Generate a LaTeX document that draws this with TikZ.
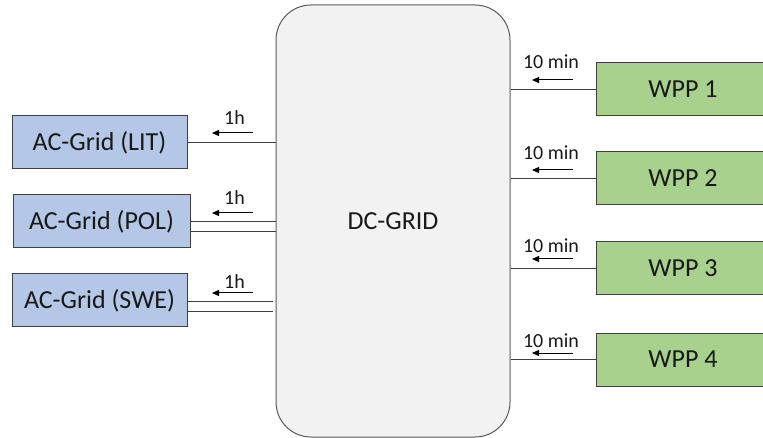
\documentclass[tikz,border=0pt]{standalone}
\usepackage{fontspec}
\setmainfont{Carlito}
\usetikzlibrary{arrows.meta}
\definecolor{acblue}{HTML}{B4C7E7}
\definecolor{wppgreen}{HTML}{A9D18E}
\definecolor{dcgray}{HTML}{F2F2F2}
\definecolor{edgecol}{HTML}{404040}
\definecolor{dcedge}{HTML}{5A5A5A}
\begin{document}
\begin{tikzpicture}[x=1pt,y=-1pt,
  box/.style={draw=edgecol, line width=1pt, minimum height=53pt, inner sep=0pt,
    font=\fontsize{26}{30}\selectfont, text=black!90},
  acbox/.style={box, fill=acblue},
  wppbox/.style={box, fill=wppgreen, minimum width=174pt},
  link/.style={draw=edgecol, line width=1pt},
  tarrow/.style={draw=black, line width=1pt, -{Triangle[length=7pt,width=6pt]}},
  lbl/.style={anchor=base, inner sep=0pt, font=\fontsize{20}{24}\selectfont, text=black!90}]
\useasboundingbox (0,0) rectangle (763,438);

% central DC grid
\node[draw=dcedge, fill=dcgray, line width=1pt, rounded corners=35pt,
      minimum width=234pt, minimum height=432pt, inner sep=0pt,
      font=\fontsize{26}{30}\selectfont, text=black!90] (dc) at (393,221) {DC-GRID};

% AC grids
\node[acbox, minimum width=175pt] (lit) at (99.5,142.5) {AC-Grid (LIT)};
\node[acbox, minimum width=177pt] (pol) at (101.5,221.5) {AC-Grid (POL)};
\node[acbox, minimum width=175pt] (swe) at (99.5,300.5) {AC-Grid (SWE)};

% WPPs
\node[wppbox] (w1) at (683,89.5) {WPP 1};
\node[wppbox] (w2) at (683,178.5) {WPP 2};
\node[wppbox] (w3) at (683,268.5) {WPP 3};
\node[wppbox] (w4) at (683,359.5) {WPP 4};

% helper coordinates for the double lines
\coordinate (p1) at (0,222);
\coordinate (p2) at (0,232);
\coordinate (s1) at (0,302);
\coordinate (s2) at (0,312);
\coordinate (sin) at (273,0);

% AC connections
\draw[link] (lit.east) -- (lit.east -| dc.west);
\draw[link] (pol.east |- p1) -- (dc.west |- p1);
\draw[link] (pol.east |- p2) -- (dc.west |- p2);
\draw[link] (swe.east |- s1) -- (sin |- s1);
\draw[link] (swe.east |- s2) -- (sin |- s2);

% WPP connections
\foreach \w in {w1,w2,w3,w4}
  \draw[link] (\w.west) -- (\w.west -| dc.east);

% 1h arrows and labels
\foreach \n/\ya/\yl in {a/133/125, b/213/205, c/293/289} {
  \coordinate (h\n s) at (253,\ya);
  \coordinate (h\n e) at (212,\ya);
  \draw[tarrow] (h\n s) -- (h\n e);
  \node[lbl] (h\n l) at (234.5,\yl) {1h};
}

% 10 min arrows and labels
\foreach \n/\ya/\yl in {a/80/69, b/170/160, c/259/253, d/353/347} {
  \coordinate (m\n s) at (573,\ya);
  \coordinate (m\n e) at (532,\ya);
  \draw[tarrow] (m\n s) -- (m\n e);
  \node[lbl] (m\n l) at (551,\yl) {10 min};
}
\end{tikzpicture}
\end{document}
